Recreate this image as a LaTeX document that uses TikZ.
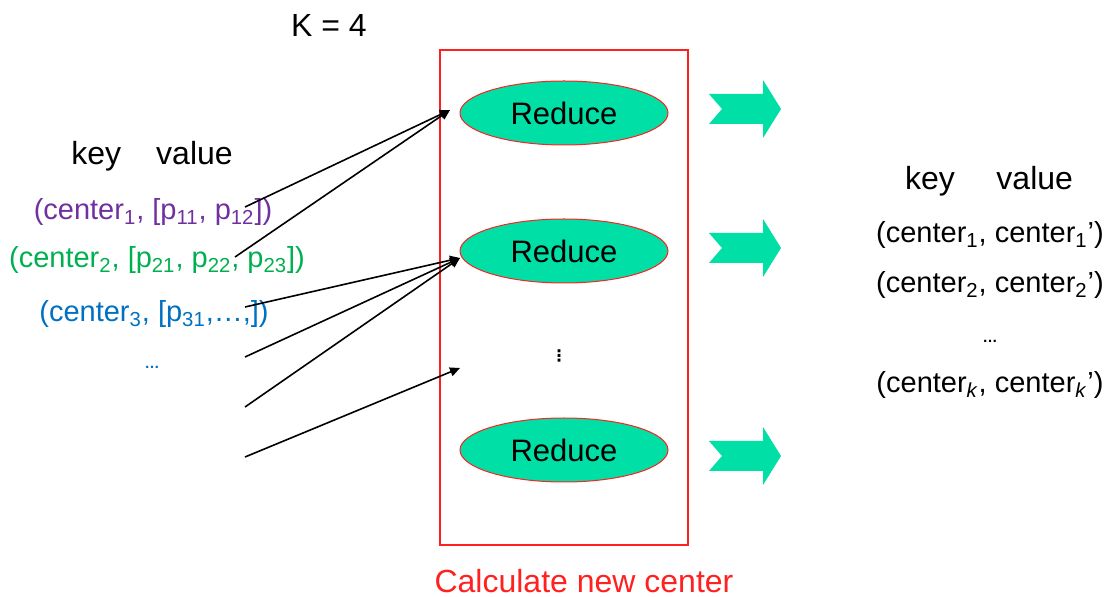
\documentclass[tikz,border=0pt]{standalone}
\usepackage{fontspec}
\setmainfont{Liberation Sans}
\newfontfamily\symfont{DejaVu Sans}
\usetikzlibrary{arrows.meta,positioning,shapes.geometric}
\definecolor{redbox}{HTML}{FF2020}
\definecolor{mint}{HTML}{00E0A6}
\definecolor{kpurple}{HTML}{7030A0}
\definecolor{kgreen}{HTML}{00B050}
\definecolor{kblue}{HTML}{0070C0}
\tikzset{
  >={Triangle[length=5pt,width=4.5pt]},
  % texter
  big/.style={font=\fontsize{16}{19}\selectfont,inner sep=0pt,anchor=base},
  row/.style={font=\fontsize{14.5}{17}\selectfont,inner sep=0pt,anchor=base},
  dots/.style={font=\fontsize{7.5}{8}\selectfont\bfseries,inner sep=0pt,anchor=base},
  % reduce
  red/.style={ellipse,draw=redbox,line width=0.5pt,fill=mint,minimum width=104pt,
              minimum height=32pt,inner sep=0pt,font=\fontsize{15.5}{18}\selectfont},
  box/.style={draw=redbox,line width=0.6pt},
  link/.style={->,draw=black,line width=0.8pt},
  fat/.pic={\fill[mint] (-36,-15) -- (18,-15) -- (18,-29) -- (36,0) -- (18,29)
            -- (18,15) -- (-36,15) -- (-23,0) -- cycle;},
}
\begin{document}
\begin{tikzpicture}[x=0.5pt,y=-0.5pt]
\useasboundingbox (0,0) rectangle (1112,597);
  \node[big] (k) at (329,37) {K = 4};
  \draw[box] (440,50) rectangle (688,545);
  \node[big,text=redbox] (calc) at (584,592) {Calculate new center};
  \node[red] (r1) at (564,113) {Reduce};
  \node[red] (r2) at (564,251) {Reduce};
  \node[red] (r3) at (564,450) {Reduce};
  \node[inner sep=0pt,font=\symfont\fontsize{8}{9}\selectfont\bfseries] (vd) at (559,356) {⋮};
  % links
  \node[big] (kvin) at (152,165) {key\hspace{1.1em}value};
  \node[row,text=kpurple] (c1) at (153,220) {(center\textsubscript{1}, [p\textsubscript{11}, p\textsubscript{12}])};
  \node[row,text=kgreen] (c2) at (157,268) {(center\textsubscript{2}, [p\textsubscript{21}, p\textsubscript{22}, p\textsubscript{23}])};
  \node[row,text=kblue] (c3) at (154,322) {(center\textsubscript{3}, [p\textsubscript{31},…,])};
  \node[dots,text=kblue] (cd) at (152,369) {…};
  \coordinate (a1) at (245,207);
  \coordinate (a2) at (235,257);
  \coordinate (a3) at (245,307);
  \coordinate (a4) at (245,357);
  \coordinate (a5) at (245,407);
  \coordinate (a6) at (245,457);
  \coordinate (e1) at (450,110);
  \coordinate (e2) at (460,258);
  \coordinate (e3) at (460,368);
  \draw[link] (a1) -- (e1);
  \draw[link] (a2) -- (e1);
  \draw[link] (a3) -- (e2);
  \draw[link] (a4) -- (e2);
  \draw[link] (a5) -- (e2);
  \draw[link] (a6) -- (e3);
  % pilar
  \pic at (745,109) {fat};
  \pic at (745,248) {fat};
  \pic at (745,456) {fat};
  % rechts
  \node[big] (kvout) at (989,190) {key\hspace{1.3em}value};
  \node[row] (o1) at (990,243) {(center\textsubscript{1}, center\textsubscript{1}’)};
  \node[row] (o2) at (990,293) {(center\textsubscript{2}, center\textsubscript{2}’)};
  \node[dots] (od) at (990,343) {…};
  \node[row] (ok) at (990,393) {(center\textsubscript{\textit{k}}, center\textsubscript{\textit{k}}’)};
\end{tikzpicture}
\end{document}
